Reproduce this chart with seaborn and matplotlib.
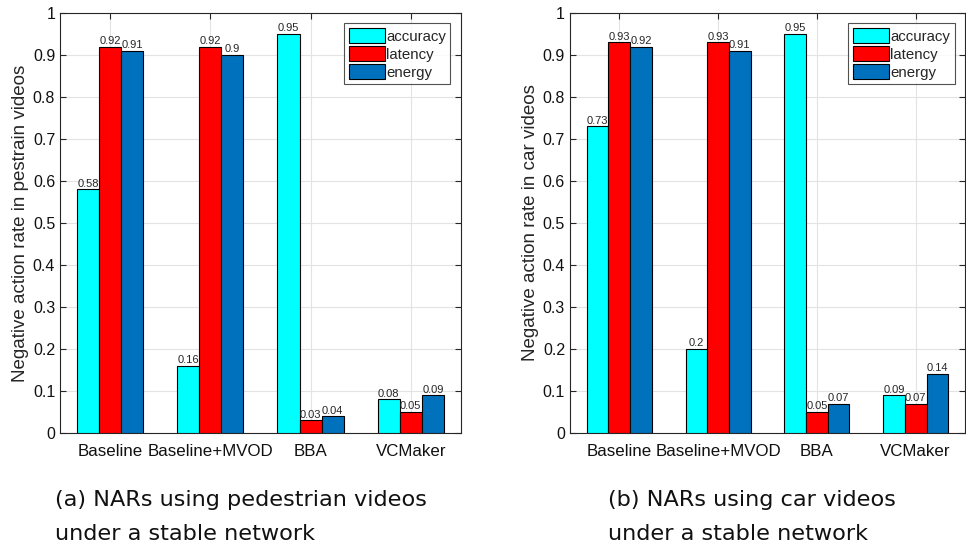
import seaborn as sns
import pandas as pd
import matplotlib.pyplot as plt

methods = ['Baseline', 'Baseline+MVOD', 'BBA', 'VCMaker']
metrics = ['accuracy', 'latency', 'energy']

ped_accuracy = [0.58, 0.16, 0.95, 0.08]
ped_latency = [0.92, 0.92, 0.03, 0.05]
ped_energy = [0.91, 0.90, 0.04, 0.09]

car_accuracy = [0.73, 0.20, 0.95, 0.09]
car_latency = [0.93, 0.93, 0.05, 0.07]
car_energy = [0.92, 0.91, 0.07, 0.14]

palette = {'accuracy': '#00FFFF', 'latency': '#FF0000', 'energy': '#0072BD'}
y_ticks = [0, 0.1, 0.2, 0.3, 0.4, 0.5, 0.6, 0.7, 0.8, 0.9, 1]


def make_df(acc, lat, en):
    rows = []
    for name, vals in zip(metrics, [acc, lat, en]):
        for m, v in zip(methods, vals):
            rows.append({'method': m, 'metric': name, 'value': v})
    return pd.DataFrame(rows)


sns.set_style('white')
plt.rcParams['font.family'] = ['Liberation Sans', 'DejaVu Sans']

fig = plt.figure(figsize=(9.66, 5.47), dpi=100)
ax_a = fig.add_axes([0.0621, 0.2084, 0.415, 0.768])
ax_b = fig.add_axes([0.590, 0.2084, 0.409, 0.768])

panels = [
    (ax_a, make_df(ped_accuracy, ped_latency, ped_energy),
     'Negative action rate in pestrain videos',
     '(a) NARs using pedestrian videos\nunder a stable network', 0.057),
    (ax_b, make_df(car_accuracy, car_latency, car_energy),
     'Negative action rate in car videos',
     '(b) NARs using car videos\nunder a stable network', 0.629),
]

for ax, df, ylab, caption, cx in panels:
    sns.barplot(data=df, x='method', y='value', hue='metric', hue_order=metrics,
                order=methods, palette=palette, width=0.66, edgecolor='black',
                linewidth=0.8, saturation=1, ax=ax, zorder=3)
    for cont in ax.containers:
        ax.bar_label(cont, fmt='{:g}', fontsize=8, padding=0.5)
    ax.set_xlim(-0.5, 3.5)
    ax.set_ylim(0, 1)
    ax.set_yticks(y_ticks)
    ax.set_yticklabels(['%g' % t for t in y_ticks])
    ax.set_xlabel('')
    ax.set_ylabel(ylab, fontsize=13.5, labelpad=3)
    ax.tick_params(axis='both', labelsize=11.5, direction='in', length=4,
                   top=True, right=True, bottom=True, left=True,
                   color='#262626', labelcolor='#111111')
    ax.tick_params(axis='x', labelsize=12.2, pad=8)
    ax.grid(True, color='#e3e3e3', linewidth=0.8, zorder=0)
    ax.set_axisbelow(True)
    for sp in ax.spines.values():
        sp.set_color('#262626')
        sp.set_linewidth(0.8)
        sp.set_visible(True)
    leg = ax.legend(loc='upper right', fontsize=10.8, fancybox=False,
                    frameon=True, edgecolor='#262626', handlelength=2.4,
                    handleheight=1.2, handletextpad=0.1, borderpad=0.3,
                    labelspacing=0.15, borderaxespad=0.7, title=None)
    leg.get_frame().set_linewidth(0.8)
    fig.text(cx, 0.006, caption, fontsize=16.1, family='DejaVu Sans',
             ha='left', va='bottom', linespacing=1.85, color='#111111')

plt.savefig('out.png', dpi=100)
